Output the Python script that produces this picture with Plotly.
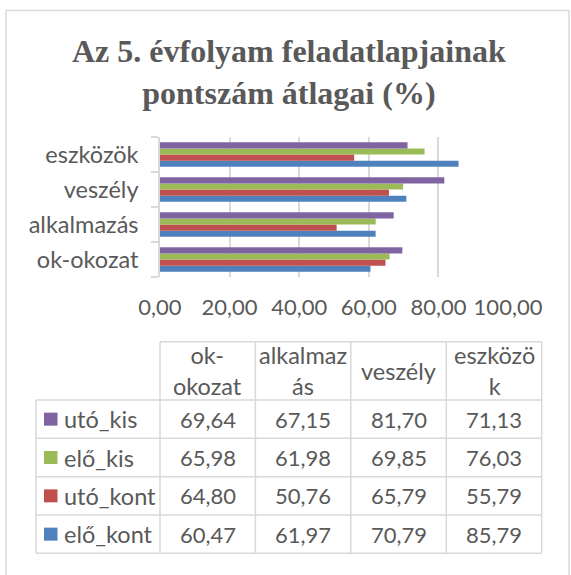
import plotly.graph_objects as go

# ---- data -------------------------------------------------------------
categories = ["ok-okozat", "alkalmazás", "veszély", "eszközök"]
table_headers = ["ok-<br>okozat", "alkalmaz<br>ás", "veszély", "eszközö<br>k"]

series_names = ["utó_kis", "elő_kis", "utó_kont", "elő_kont"]
uto_kis = [69.64, 67.15, 81.70, 71.13]
elo_kis = [65.98, 61.98, 69.85, 76.03]
uto_kont = [64.80, 50.76, 65.79, 55.79]
elo_kont = [60.47, 61.97, 70.79, 85.79]
series_values = [uto_kis, elo_kis, uto_kont, elo_kont]
series_colors = ["#8064A2", "#9BBB59", "#C0504D", "#4F81BD"]

x_ticks = [0, 20, 40, 60, 80, 100]

# ---- layout geometry (pixels) -----------------------------------------
W, H = 571, 575
L, R, T, B = 160, 508, 137, 277          # plot area
TXT = "#595959"
LINE = "#D9D9D9"
FONT = "Lato"
FS_NUM = 22      # numbers
FS_WORD = 23.5   # words


def px(x):
    return (x - L) / (R - L)


def py(y):
    return (B - y) / (B - T)


def fmt(v):
    return f"{v:.2f}".replace(".", ",")


fig = go.Figure()

# bars: the first trace sits at the bottom of each group
for name, vals, col in reversed(list(zip(series_names, series_values, series_colors))):
    fig.add_trace(go.Bar(
        y=categories, x=vals, name=name, orientation="h",
        marker=dict(color=col, line=dict(width=0)),
    ))

shapes = []
annotations = []

# outer chart frame
shapes.append(dict(type="rect", xref="paper", yref="paper",
                   x0=px(6), x1=px(569), y0=py(10.5), y1=py(590),
                   line=dict(color=LINE, width=1.5), fillcolor="rgba(0,0,0,0)", layer="below"))

# title
annotations.append(dict(
    xref="paper", yref="paper", x=px(288.5), y=py(71.5), xanchor="center", yanchor="middle",
    text="<b>Az 5. évfolyam feladatlapjainak<br>pontszám átlagai (%)</b>",
    showarrow=False, font=dict(family="Liberation Serif", size=32, color=TXT),
))

# ---- data table ---------------------------------------------------------
col_x = [160, 255.4, 350.8, 446.3, 541.7]
row_y = [341.7, 400, 438.3, 476.7, 515, 553.3]
tab_left = 36


def hline(y, x0, x1):
    shapes.append(dict(type="line", xref="paper", yref="paper",
                       x0=px(x0), x1=px(x1), y0=py(y), y1=py(y),
                       line=dict(color=LINE, width=1.5)))


def vline(x, y0, y1):
    shapes.append(dict(type="line", xref="paper", yref="paper",
                       x0=px(x), x1=px(x), y0=py(y0), y1=py(y1),
                       line=dict(color=LINE, width=1.5)))


hline(row_y[0], col_x[0], col_x[-1])
for y in row_y[1:]:
    hline(y, tab_left, col_x[-1])
for x in col_x:
    vline(x, row_y[0], row_y[-1])
vline(tab_left, row_y[1], row_y[-1])

# header cells
for i, h in enumerate(table_headers):
    annotations.append(dict(
        xref="paper", yref="paper", x=px((col_x[i] + col_x[i + 1]) / 2),
        y=py((row_y[0] + row_y[1]) / 2), xanchor="center", yanchor="middle",
        text=h, showarrow=False, font=dict(family=FONT, size=FS_WORD, color=TXT),
    ))

# body rows with legend keys
for r, (name, vals, col) in enumerate(zip(series_names, series_values, series_colors)):
    yc = (row_y[r + 1] + row_y[r + 2]) / 2
    shapes.append(dict(type="rect", xref="paper", yref="paper",
                       x0=px(44), x1=px(57.5), y0=py(yc - 6.5), y1=py(yc + 6.5),
                       line=dict(width=0), fillcolor=col))
    annotations.append(dict(
        xref="paper", yref="paper", x=px(62), y=py(yc), xanchor="left", yanchor="middle",
        text=name, showarrow=False, font=dict(family=FONT, size=FS_WORD, color=TXT),
    ))
    for i, v in enumerate(vals):
        annotations.append(dict(
            xref="paper", yref="paper", x=px((col_x[i] + col_x[i + 1]) / 2), y=py(yc),
            xanchor="center", yanchor="middle",
            text=fmt(v), showarrow=False, font=dict(family=FONT, size=FS_NUM, color=TXT),
        ))

fig.update_layout(
    width=W, height=H,
    margin=dict(l=L, r=W - R, t=T, b=H - B, pad=0),
    paper_bgcolor="white", plot_bgcolor="white",
    barmode="group", bargap=0.3, bargroupgap=0,
    showlegend=False,
    separators=", ",
    font=dict(family=FONT, size=FS_NUM, color=TXT),
    shapes=shapes, annotations=annotations,
    xaxis=dict(
        range=[0, 100], tickvals=x_ticks, tickformat=".2f",
        showgrid=True, gridcolor=LINE, gridwidth=1.5,
        zeroline=False, showline=False, ticks="",
        ticklabelstandoff=15,
        tickfont=dict(family=FONT, size=FS_NUM, color=TXT),
        fixedrange=True,
    ),
    yaxis=dict(
        type="category", categoryorder="array", categoryarray=categories,
        showline=True, linecolor=LINE, linewidth=1.5,
        ticks="outside", tickson="boundaries", ticklen=7, tickcolor=LINE, tickwidth=1.5,
        showgrid=False, zeroline=False,
        ticklabelstandoff=15,
        tickfont=dict(family=FONT, size=FS_WORD, color=TXT),
        fixedrange=True,
    ),
)

fig.write_html("out.html")
